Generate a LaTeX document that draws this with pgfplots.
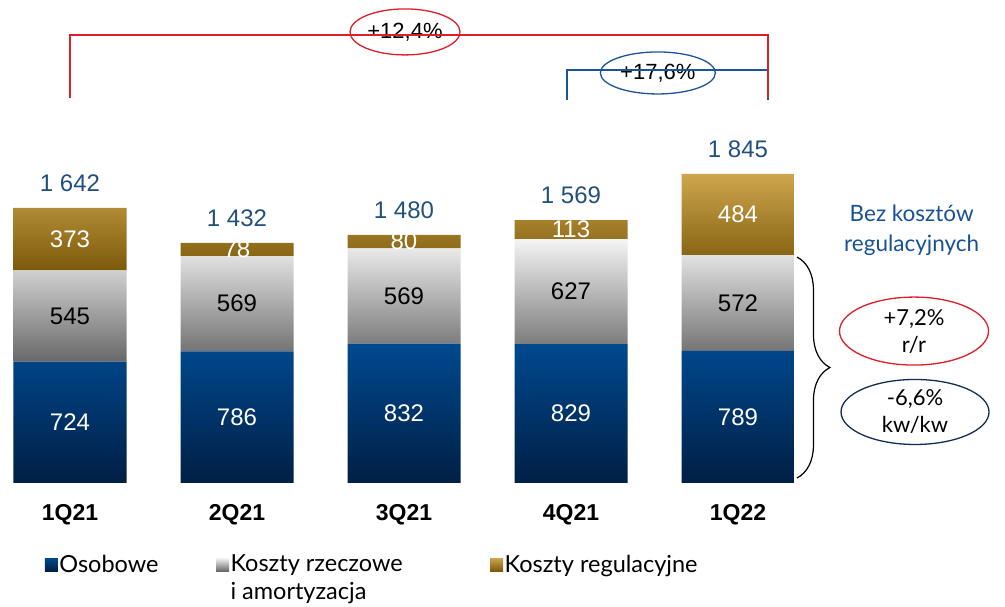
\documentclass[border=0pt]{standalone}
\usepackage{pgfplots}
\pgfplotsset{compat=1.18}
\usepackage{fontspec}
\setmainfont{Liberation Sans}
\newfontfamily\txtfont{Lato}
\usetikzlibrary{shapes.geometric,decorations.pathreplacing}
\definecolor{blueT}{RGB}{0,73,143}
\definecolor{blueB}{RGB}{0,31,68}
\definecolor{grayT}{RGB}{244,244,244}
\definecolor{grayB}{RGB}{104,104,104}
\definecolor{goldT}{RGB}{205,165,76}
\definecolor{goldB}{RGB}{124,90,10}
\definecolor{totblue}{RGB}{33,80,125}
\definecolor{annred}{RGB}{222,30,40}
\definecolor{annblue}{RGB}{28,84,152}
\definecolor{annnavy}{RGB}{18,45,85}
\definecolor{txtblue}{RGB}{24,82,150}
\pgfplotsset{
  baseaxis/.style={
    at={(3.2bp,124bp)}, anchor=south west,
    scale only axis, width=801.6bp, height=482.4bp,
    xmin=-0.4, xmax=4.4, ymin=0, ymax=2880, clip=false},
  seglabel/.style={
    nodes near coords,
    nodes near coords style={font=\fontsize{24bp}{28bp}\selectfont, text=#1, anchor=center}},
}
\begin{document}
\begin{tikzpicture}
\path (0,0) rectangle (1005bp,607bp);
\begin{axis}[
  baseaxis,
  ybar stacked, bar width=113bp,
  axis x line=bottom, axis y line=none,
  axis line style={draw=none},
  major tick length=0pt,
  ytick=\empty,
  xtick={0,1,2,3,4},
  xticklabels={\mbox{1Q21},\mbox{2Q21},\mbox{3Q21},\mbox{4Q21},\mbox{1Q22}},
  xticklabel style={font=\bfseries\fontsize{23bp}{26bp}\selectfont, text=black, yshift=-18bp},
  point meta=explicit symbolic,
  legend columns=3,
  legend cell align=left,
  legend image code/.code={\path[#1] (0bp,7bp) rectangle (13bp,20bp);},
  legend style={at={(rel axis cs:0.048,-0.141)}, anchor=north west, draw=none, fill=none,
    font=\txtfont\fontsize{23.5bp}{28bp}\selectfont, cells={align=left},
    /tikz/every even column/.append style={column sep=56bp},
    nodes={inner sep=1.5bp}},
]
\addplot[draw=none, shade, top color=blueT, bottom color=blueB, seglabel=white]
  coordinates {(0,724) [724] (1,786) [786] (2,832) [832] (3,829) [829] (4,789) [789]};
\addlegendentry{Osobowe\\\mbox{}}
\addplot[draw=none, shade, top color=grayT, bottom color=grayB, seglabel=black]
  coordinates {(0,545) [545] (1,569) [569] (2,569) [569] (3,627) [627] (4,572) [572]};
\addlegendentry{Koszty rzeczowe\hspace*{30bp}\rule{0pt}{0pt}\\i amortyzacja}
\addplot[draw=none, shade, top color=goldT, bottom color=goldB, seglabel=white]
  coordinates {(0,373) [373] (1,78) [78] (2,80) [80] (3,113) [113] (4,484) [484]};
\addlegendentry{Koszty regulacyjne\\\mbox{}}

% growth brackets
\draw[annred, line width=1.3bp] (axis cs:0,2299) -- (axis cs:0,2675) -- (axis cs:4.18,2675) -- (axis cs:4.18,2299);
\draw[annblue, line width=1.3bp] (axis cs:2.976,2287) -- (axis cs:2.976,2466) -- (axis cs:4.18,2466) -- (axis cs:4.18,2287);
\node[ellipse, draw=annred, line width=1.3bp, fill=white, minimum width=110bp, minimum height=46bp, inner sep=0pt,
  font=\fontsize{22bp}{24bp}\selectfont] at (axis cs:2.006,2693) {+12,4\%};
\node[ellipse, draw=annblue, line width=1.3bp, fill=white, minimum width=115bp, minimum height=42bp, inner sep=0pt,
  font=\fontsize{22bp}{24bp}\selectfont] at (axis cs:3.52,2448) {+17,6\%};

% right side
\node[align=center, text=txtblue, font=\txtfont\fontsize{22.5bp}{30bp}\selectfont] at (axis cs:5.04,1510) {Bez kosztów\\regulacyjnych};
\draw[black, line width=1.2bp, decorate, decoration={brace, amplitude=33bp}] (axis cs:4.353,1349) -- (axis cs:4.353,30);
\node[ellipse, draw=annred, line width=1.3bp, minimum width=149bp, minimum height=68bp, inner sep=0pt, align=center,
  font=\txtfont\fontsize{22bp}{27bp}\selectfont] at (axis cs:5.054,907) {+7,2\%\\r/r};
\node[ellipse, draw=annnavy, line width=1.3bp, minimum width=148bp, minimum height=65bp, inner sep=0pt, align=center,
  font=\txtfont\fontsize{22bp}{27bp}\selectfont] at (axis cs:5.06,424) {-6,6\%\\kw/kw};
\end{axis}
\begin{axis}[baseaxis, hide axis]
\addplot[draw=none, mark=none, point meta=explicit symbolic, nodes near coords,
  nodes near coords style={font=\fontsize{24bp}{28bp}\selectfont, text=totblue, anchor=center, yshift=25bp}]
  coordinates {(0,1642) [1 642] (1,1432) [1 432] (2,1480) [1 480] (3,1569) [1 569] (4,1845) [1 845]};
\end{axis}
\end{tikzpicture}
\end{document}
